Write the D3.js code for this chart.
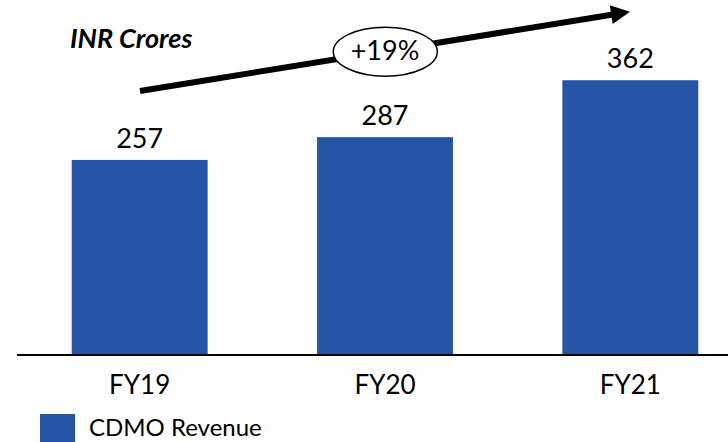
<!DOCTYPE html>
<html>
<head>
<meta charset="utf-8">
<script src="https://cdn.jsdelivr.net/npm/d3@7"></script>
<style>
  html, body { margin: 0; padding: 0; background: #fff; }
  svg { display: block; }
  text { font-family: Lato, "Open Sans", sans-serif; fill: #000; }
</style>
</head>
<body>
<svg id="chart" width="728" height="442"></svg>
<script>
const categories = ["FY19", "FY20", "FY21"];
const values = [257, 287, 362];
const seriesName = "CDMO Revenue";
const unitLabel = "INR Crores";
const growthLabel = "+19%";

const W = 728, H = 442;
const svg = d3.select("#chart");
const barColor = "#2655A6";

const x = d3.scaleBand()
  .domain(categories)
  .range([17, 753])
  .paddingInner(0.446)
  .paddingOuter(0.223);

const y = d3.scaleLinear().domain([0, 400]).range([355, 51.4]);

// bars
svg.selectAll("rect.bar")
  .data(values)
  .enter().append("rect")
  .attr("class", "bar")
  .attr("x", (d, i) => x(categories[i]))
  .attr("width", x.bandwidth())
  .attr("y", d => y(d))
  .attr("height", d => y(0) - y(d))
  .attr("fill", barColor);

// value labels
svg.selectAll("text.val")
  .data(values)
  .enter().append("text")
  .attr("class", "val")
  .attr("x", (d, i) => x(categories[i]) + x.bandwidth() / 2)
  .attr("y", d => y(d) - 12)
  .attr("text-anchor", "middle")
  .style("font-size", "27px")
  .text(d => d);

// x axis
const xAxis = d3.axisBottom(x).tickSize(0).tickPadding(0);
const gx = svg.append("g").attr("transform", `translate(0,${y(0)})`).call(xAxis);
gx.select(".domain").remove();
gx.selectAll("text")
  .attr("dy", null)
  .attr("y", 39)
  .style("font-size", "26px")
  .style("font-family", "Lato, 'Open Sans', sans-serif")
  .attr("fill", "#000");
svg.append("line")
  .attr("x1", 17).attr("x2", W)
  .attr("y1", y(0)).attr("y2", y(0))
  .attr("stroke", "#000").attr("stroke-width", 2);

// unit label
svg.append("text")
  .attr("x", 70).attr("y", 48)
  .style("font-size", "27px")
  .style("font-weight", "bold")
  .style("font-style", "italic")
  .text(unitLabel);

// growth arrow
const x0 = 140, y0 = 91, x1 = 630, y1 = 11.7;
const ang = Math.atan2(y1 - y0, x1 - x0);
const headLen = 19, headHalf = 9.5;
const bx = x1 - headLen * Math.cos(ang), by = y1 - headLen * Math.sin(ang);
svg.append("line")
  .attr("x1", x0).attr("y1", y0)
  .attr("x2", bx + 2 * Math.cos(ang)).attr("y2", by + 2 * Math.sin(ang))
  .attr("stroke", "#000").attr("stroke-width", 6);
const px = -Math.sin(ang), py = Math.cos(ang);
svg.append("path")
  .attr("d", `M${x1},${y1} L${bx + px * headHalf},${by + py * headHalf} L${bx - px * headHalf},${by - py * headHalf} Z`)
  .attr("fill", "#000");

// growth ellipse
svg.append("ellipse")
  .attr("cx", 385.3).attr("cy", 51.7)
  .attr("rx", 52).attr("ry", 24.5)
  .attr("fill", "#fff").attr("stroke", "#000").attr("stroke-width", 1.5);
svg.append("text")
  .attr("x", 385).attr("y", 60)
  .attr("text-anchor", "middle")
  .style("font-size", "27px")
  .text(growthLabel);

// legend
svg.append("rect")
  .attr("x", 40).attr("y", 414)
  .attr("width", 35).attr("height", 30)
  .attr("fill", barColor);
svg.append("text")
  .attr("x", 89).attr("y", 436)
  .style("font-size", "24px")
  .text(seriesName);
</script>
</body>
</html>
